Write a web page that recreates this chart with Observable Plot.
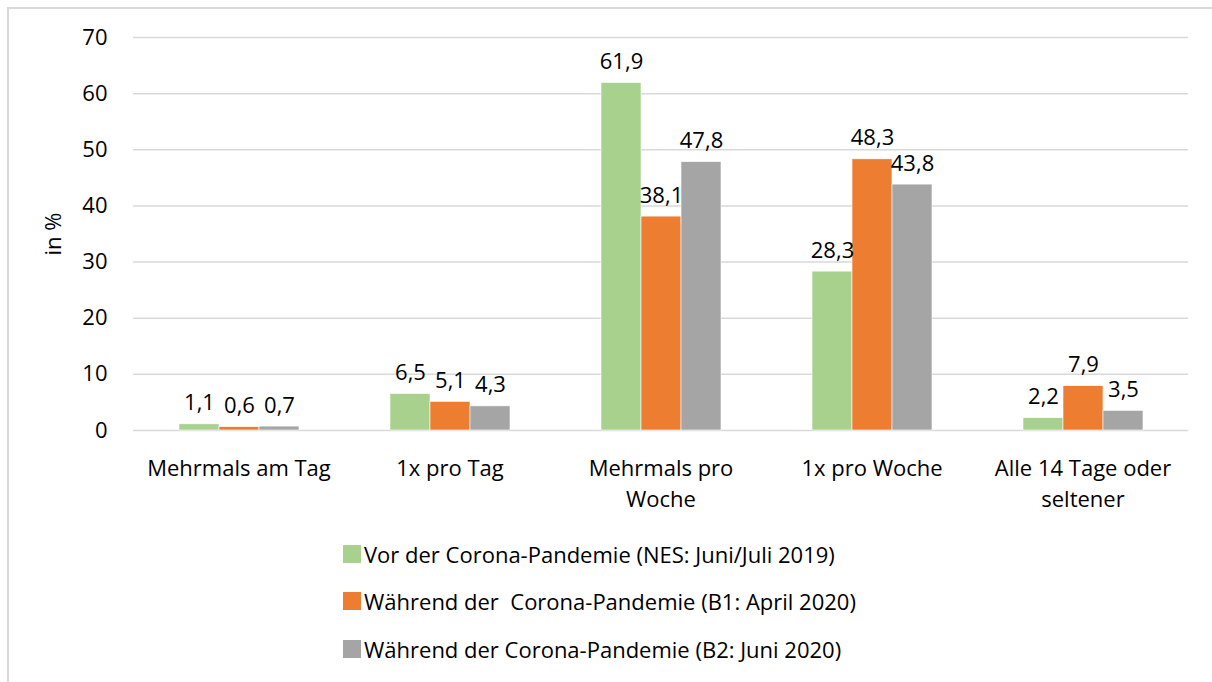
<!DOCTYPE html>
<html>
<head>
<meta charset="utf-8">
<script src="https://cdn.jsdelivr.net/npm/d3@7"></script>
<script src="https://cdn.jsdelivr.net/npm/@observablehq/plot@0.6"></script>
<style>
  html, body { margin: 0; padding: 0; background: #fff; overflow: hidden; width: 1212px; height: 682px; }
  #frame { position: absolute; left: 7px; top: 7px; width: 1400px; height: 900px; border: 2px solid #d9d9d9; box-sizing: border-box; }
  #chart { position: absolute; left: 0; top: 0; }
  #legend { position: absolute; left: 343px; top: 530px; font-family: "Open Sans", sans-serif; font-size: 22px; color: #000; }
  .row { display: flex; align-items: center; height: 47.5px; white-space: pre; }
  .sw { width: 18px; height: 18px; margin-right: 3px; flex: none; }
</style>
</head>
<body>
<div id="frame"></div>
<div id="chart"></div>
<div id="legend"></div>
<script>
const categories = ["Mehrmals am Tag", "1x pro Tag", "Mehrmals pro\nWoche", "1x pro Woche", "Alle 14 Tage oder\nseltener"];
const series = [
  "Vor der Corona-Pandemie (NES: Juni/Juli 2019)",
  "Während der  Corona-Pandemie (B1: April 2020)",
  "Während der Corona-Pandemie (B2: Juni 2020)"
];
const colors = ["#A9D18E", "#ED7D31", "#A5A5A5"];
const vorValues = [1.1, 6.5, 61.9, 28.3, 2.2];
const b1Values = [0.6, 5.1, 38.1, 48.3, 7.9];
const b2Values = [0.7, 4.3, 47.8, 43.8, 3.5];
const yTicks = [0, 10, 20, 30, 40, 50, 60, 70];

const seriesValues = [vorValues, b1Values, b2Values];
const data = [];
categories.forEach((c, i) => {
  series.forEach((s, j) => data.push({cat: c, series: s, value: seriesValues[j][i]}));
});
const fmt = v => v.toFixed(1).replace(".", ",");

const chart = Plot.plot({
  width: 1212,
  height: 520,
  marginTop: 37,
  marginBottom: 90,
  marginLeft: 133,
  marginRight: 24,
  style: {fontFamily: "'Open Sans', sans-serif", fontSize: "22px", color: "#000", background: "transparent"},
  fx: {domain: categories, paddingInner: 0, paddingOuter: 0, label: null, axis: null},
  x: {domain: series, paddingInner: 0, paddingOuter: 1.09, axis: null},
  y: {domain: [0, 70], axis: null},
  color: {domain: series, range: colors},
  marks: [
    Plot.ruleY(yTicks, {stroke: "#d9d9d9", strokeWidth: 1.5}),
    Plot.axisY({ticks: yTicks, tickSize: 0, tickPadding: 26, label: "in %", labelAnchor: "center", labelArrow: false, labelOffset: 88, fill: "#000", fontSize: 22}),
    Plot.axisFx({anchor: "bottom", tickSize: 0, tickPadding: 24, label: null, lineHeight: 1.4, fill: "#000", fontSize: 22, textAnchor: "middle"}),
    Plot.barY(data, {fx: "cat", x: "series", y: "value", fill: "series", stroke: "#fff", strokeWidth: 0.6}),
    Plot.text(data, {fx: "cat", x: "series", y: "value", text: d => fmt(d.value), dy: -21, fill: "#000", fontSize: 22})
  ]
});
document.getElementById("chart").appendChild(chart);

const legend = document.getElementById("legend");
series.forEach((s, j) => {
  const row = document.createElement("div");
  row.className = "row";
  const sw = document.createElement("span");
  sw.className = "sw";
  sw.style.background = colors[j];
  const t = document.createElement("span");
  t.textContent = s;
  row.appendChild(sw);
  row.appendChild(t);
  legend.appendChild(row);
});
</script>
</body>
</html>
